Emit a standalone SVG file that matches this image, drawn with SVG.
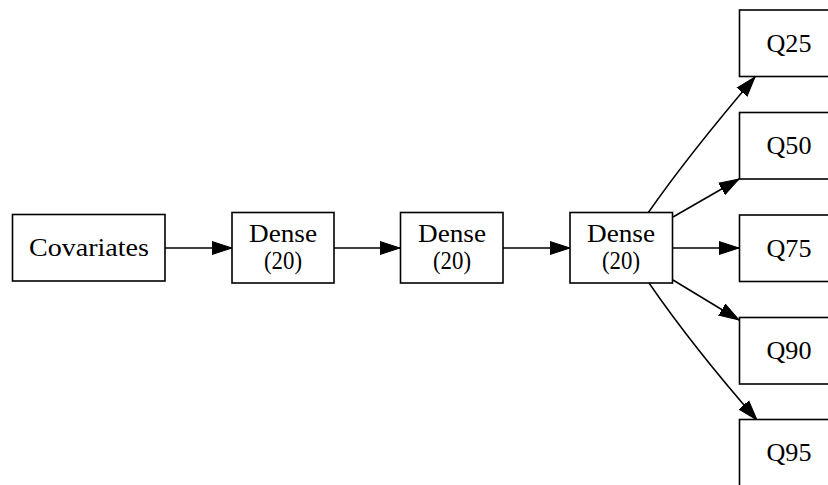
<svg xmlns="http://www.w3.org/2000/svg" width="828" height="485" viewBox="0 0 828 485">
  <defs>
    <marker id="arrow" markerUnits="userSpaceOnUse" markerWidth="22" markerHeight="16" refX="20" refY="7.5" orient="auto">
      <path d="M0,1 L20,7.5 L0,14 Z" fill="#000" stroke="#000" stroke-width="1"/>
    </marker>
  </defs>
  <style>
    .box { fill: #fff; stroke: #000; stroke-width: 1.6; }
    .lbl { font-family: "Liberation Serif", "DejaVu Serif", serif; font-size: 25.5px; fill: #000; text-anchor: middle; }
    .edge { fill: none; stroke: #000; stroke-width: 1.5; marker-end: url(#arrow); }
  </style>
  <rect width="828" height="485" fill="#fff"/>

  <g id="edges">
    <path class="edge" d="M165,248 L232,248"/>
    <path class="edge" d="M334,248 L400,248"/>
    <path class="edge" d="M503,248 L570,248"/>
    <path class="edge" d="M648,213 C678,170 720,118 755,77"/>
    <path class="edge" d="M673,217 L739,179"/>
    <path class="edge" d="M673,248 L739,248"/>
    <path class="edge" d="M673,280 L739,320"/>
    <path class="edge" d="M649,283 C680,328 722,380 757,420"/>
  </g>

  <g id="covariates">
    <rect class="box" x="12.5" y="214.5" width="152.5" height="66.5"/>
    <text class="lbl" x="89" y="255.5" textLength="120" lengthAdjust="spacingAndGlyphs">Covariates</text>
  </g>
  <g id="dense1">
    <rect class="box" x="232" y="212.5" width="102" height="70.5"/>
    <text class="lbl" x="283" y="241.5" textLength="68" lengthAdjust="spacingAndGlyphs">Dense</text>
    <text class="lbl" x="283" y="268.5" textLength="38" lengthAdjust="spacingAndGlyphs">(20)</text>
  </g>
  <g id="dense2">
    <rect class="box" x="400.5" y="212.5" width="102.5" height="70.5"/>
    <text class="lbl" x="452" y="241.5" textLength="68" lengthAdjust="spacingAndGlyphs">Dense</text>
    <text class="lbl" x="452" y="268.5" textLength="38" lengthAdjust="spacingAndGlyphs">(20)</text>
  </g>
  <g id="dense3">
    <rect class="box" x="570" y="212.5" width="102.5" height="70.5"/>
    <text class="lbl" x="621" y="241.5" textLength="68" lengthAdjust="spacingAndGlyphs">Dense</text>
    <text class="lbl" x="621" y="268.5" textLength="38" lengthAdjust="spacingAndGlyphs">(20)</text>
  </g>
  <g id="q25">
    <rect class="box" x="739.5" y="10" width="100" height="66.5"/>
    <text class="lbl" x="789" y="51.5" textLength="45" lengthAdjust="spacingAndGlyphs">Q25</text>
  </g>
  <g id="q50">
    <rect class="box" x="739.5" y="112.5" width="100" height="66.5"/>
    <text class="lbl" x="789" y="154" textLength="45" lengthAdjust="spacingAndGlyphs">Q50</text>
  </g>
  <g id="q75">
    <rect class="box" x="739.5" y="215" width="100" height="66.5"/>
    <text class="lbl" x="789" y="256.5" textLength="45" lengthAdjust="spacingAndGlyphs">Q75</text>
  </g>
  <g id="q90">
    <rect class="box" x="739.5" y="317.5" width="100" height="66.5"/>
    <text class="lbl" x="789" y="359" textLength="45" lengthAdjust="spacingAndGlyphs">Q90</text>
  </g>
  <g id="q95">
    <rect class="box" x="739.5" y="419.5" width="100" height="80"/>
    <text class="lbl" x="789" y="461" textLength="45" lengthAdjust="spacingAndGlyphs">Q95</text>
  </g>
</svg>
